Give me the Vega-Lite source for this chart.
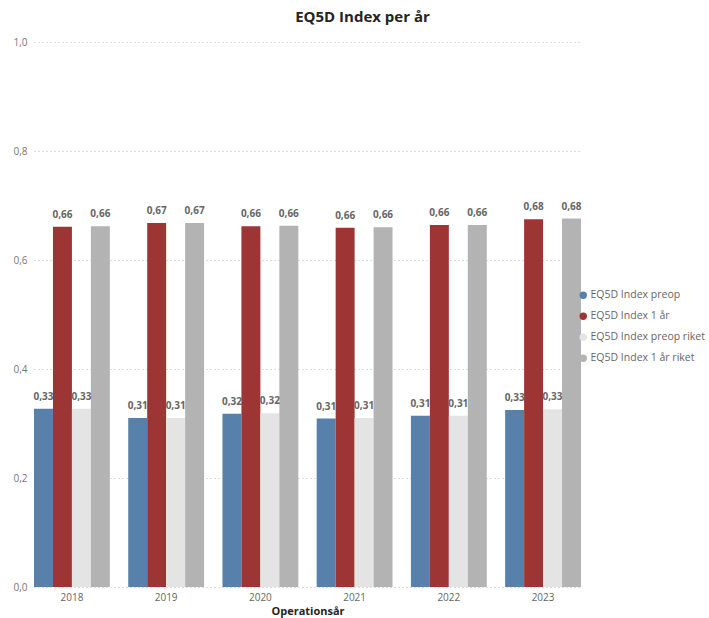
{
  "$schema": "https://vega.github.io/schema/vega-lite/v6.json",
  "width": 547,
  "height": 545,
  "autosize": "none",
  "padding": {"left": 34, "top": 42, "right": 128, "bottom": 31},
  "config": {
    "locale": {"number": {"decimal": ",", "thousands": " ", "grouping": [3], "currency": ["", " kr"]}},
    "view": {"stroke": null},
    "font": "Open Sans"
  },
  "title": {"text": "EQ5D Index per år", "fontSize": 15, "fontWeight": "bold", "color": "#252423", "anchor": "middle", "dx": 55, "offset": 12},
  "data": {"values": [
    {"year": "2018", "serie": "EQ5D Index preop", "value": 0.327},
    {"year": "2018", "serie": "EQ5D Index 1 år", "value": 0.661},
    {"year": "2018", "serie": "EQ5D Index preop riket", "value": 0.327},
    {"year": "2018", "serie": "EQ5D Index 1 år riket", "value": 0.662},
    {"year": "2019", "serie": "EQ5D Index preop", "value": 0.310},
    {"year": "2019", "serie": "EQ5D Index 1 år", "value": 0.668},
    {"year": "2019", "serie": "EQ5D Index preop riket", "value": 0.310},
    {"year": "2019", "serie": "EQ5D Index 1 år riket", "value": 0.668},
    {"year": "2020", "serie": "EQ5D Index preop", "value": 0.318},
    {"year": "2020", "serie": "EQ5D Index 1 år", "value": 0.662},
    {"year": "2020", "serie": "EQ5D Index preop riket", "value": 0.319},
    {"year": "2020", "serie": "EQ5D Index 1 år riket", "value": 0.663},
    {"year": "2021", "serie": "EQ5D Index preop", "value": 0.309},
    {"year": "2021", "serie": "EQ5D Index 1 år", "value": 0.659},
    {"year": "2021", "serie": "EQ5D Index preop riket", "value": 0.310},
    {"year": "2021", "serie": "EQ5D Index 1 år riket", "value": 0.660},
    {"year": "2022", "serie": "EQ5D Index preop", "value": 0.314},
    {"year": "2022", "serie": "EQ5D Index 1 år", "value": 0.664},
    {"year": "2022", "serie": "EQ5D Index preop riket", "value": 0.314},
    {"year": "2022", "serie": "EQ5D Index 1 år riket", "value": 0.664},
    {"year": "2023", "serie": "EQ5D Index preop", "value": 0.325},
    {"year": "2023", "serie": "EQ5D Index 1 år", "value": 0.675},
    {"year": "2023", "serie": "EQ5D Index preop riket", "value": 0.326},
    {"year": "2023", "serie": "EQ5D Index 1 år riket", "value": 0.676}
  ]},
  "encoding": {
    "x": {
      "field": "year", "type": "nominal",
      "scale": {"paddingInner": 0.195, "paddingOuter": 0},
      "axis": {
        "title": "Operationsår", "labelAngle": 0, "domain": false, "ticks": false, "grid": false,
        "labelColor": "#666666", "labelFontSize": 10, "labelPadding": 5,
        "titleFontSize": 11, "titleFontWeight": "bold", "titleColor": "#252423", "titlePadding": 3
      }
    },
    "xOffset": {
      "field": "serie", "type": "nominal",
      "sort": ["EQ5D Index preop", "EQ5D Index 1 år", "EQ5D Index preop riket", "EQ5D Index 1 år riket"],
      "scale": {"paddingInner": 0, "paddingOuter": 0}
    },
    "y": {
      "field": "value", "type": "quantitative",
      "scale": {"domain": [0, 1]},
      "axis": {
        "title": null, "values": [0, 0.2, 0.4, 0.6, 0.8, 1.0], "format": ".1f",
        "grid": true, "gridDash": [1, 3], "gridColor": "#bdbdbd", "domain": false, "ticks": false,
        "labelColor": "#777777", "labelFontSize": 10, "labelPadding": 7
      }
    }
  },
  "layer": [
    {
      "mark": {"type": "bar"},
      "encoding": {
        "color": {
          "field": "serie", "type": "nominal",
          "scale": {
            "domain": ["EQ5D Index preop", "EQ5D Index 1 år", "EQ5D Index preop riket", "EQ5D Index 1 år riket"],
            "range": ["#5780aa", "#9e3535", "#e4e4e4", "#b3b3b3"]
          },
          "legend": {
            "title": null, "orient": "none", "legendX": 544, "legendY": 248,
            "symbolType": "circle", "symbolSize": 55, "labelFontSize": 10.5, "labelColor": "#666666",
            "rowPadding": 10, "labelOffset": 2, "symbolStrokeWidth": 0
          }
        }
      }
    },
    {
      "mark": {"type": "text", "dy": -12, "fontWeight": "bold", "fontSize": 10, "color": "#666666"},
      "encoding": {"text": {"field": "value", "type": "quantitative", "format": ".2f"}}
    }
  ]
}
